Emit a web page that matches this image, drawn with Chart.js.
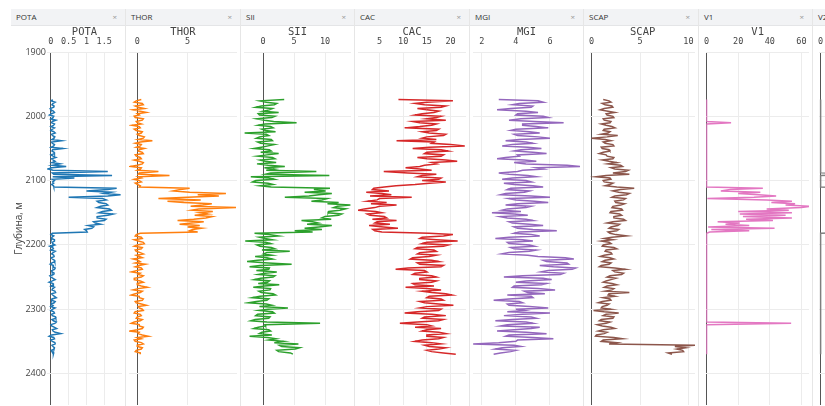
<!DOCTYPE html>
<html>
<head>
<meta charset="utf-8">
<script src="https://cdn.jsdelivr.net/npm/chart.js@4.4.0/dist/chart.umd.min.js"></script>
<style>
  html, body { margin: 0; padding: 0; background: #fff; width: 825px; height: 406px; overflow: hidden; }
  .panel { position: absolute; top: 9px; height: 397px; border-right: 1px solid #e6e6e6; box-sizing: border-box; }
  .hdr { position: relative; height: 17px; box-sizing: border-box; background: #f2f3f5; border-bottom: 1px solid #e4e5e7;
         font: 8px 'Open Sans', sans-serif; color: #333; line-height: 16px; padding-left: 5px; }
  .hdr .x { position: absolute; right: 8px; top: 0; color: #999; font-size: 8px; }
  .panel canvas { position: absolute; top: 17px; left: 0; }
</style>
</head>
<body>
<script>
// глубины (м), шаг 2 м
const DEPTH = [
  1974, 1976, 1978, 1980, 1982, 1984, 1986, 1988, 1990, 1992, 1994, 1996, 1998, 2000, 2002, 2004, 2006, 2008, 2010, 2012,
  2014, 2016, 2018, 2020, 2022, 2024, 2026, 2028, 2030, 2032, 2034, 2036, 2038, 2040, 2042, 2044, 2046, 2048, 2050, 2052,
  2054, 2056, 2058, 2060, 2062, 2064, 2066, 2068, 2070, 2072, 2074, 2076, 2078, 2080, 2082, 2084, 2086, 2088, 2090, 2092,
  2094, 2096, 2098, 2100, 2102, 2104, 2106, 2108, 2110, 2112, 2114, 2116, 2118, 2120, 2122, 2124, 2126, 2128, 2130, 2132,
  2134, 2136, 2138, 2140, 2142, 2144, 2146, 2148, 2150, 2152, 2154, 2156, 2158, 2160, 2162, 2164, 2166, 2168, 2170, 2172,
  2174, 2176, 2178, 2180, 2182, 2184, 2186, 2188, 2190, 2192, 2194, 2196, 2198, 2200, 2202, 2204, 2206, 2208, 2210, 2212,
  2214, 2216, 2218, 2220, 2222, 2224, 2226, 2228, 2230, 2232, 2234, 2236, 2238, 2240, 2242, 2244, 2246, 2248, 2250, 2252,
  2254, 2256, 2258, 2260, 2262, 2264, 2266, 2268, 2270, 2272, 2274, 2276, 2278, 2280, 2282, 2284, 2286, 2288, 2290, 2292,
  2294, 2296, 2298, 2300, 2302, 2304, 2306, 2308, 2310, 2312, 2314, 2316, 2318, 2320, 2322, 2324, 2326, 2328, 2330, 2332,
  2334, 2336, 2338, 2340, 2342, 2344, 2346, 2348, 2350, 2352, 2354, 2356, 2358, 2360, 2362, 2364, 2366, 2368, 2370
];
const DEPTH_TICKS = [1900, 2000, 2100, 2200, 2300, 2400];

const POTA = [
  0.05, 0.01, 0.12, 0.06, 0.03, 0.09, 0.08, -0.02, 0.0, 0.07, 0.1, 0.02, -0.04, 0.08, 0.06, 0.0, 0.14, 0.04, 0.02, 0.1,
  0.07, 0.0, 0.1, 0.04, 0.0, 0.08, 0.12, 0.02, 0.05, 0.11, 0.09, 0.03, 0.3, 0.02, 0.04, 0.1, 0.08, 0.01, 0.34, 0.05,
  0.03, 0.09, 0.1, 0.0, 0.06, 0.14, 0.02, 0.07, 0.12, 0.03, 0.25, 0.05, 0.43, 0.02, -0.08, 0.06, 1.6, 0.04, 0.08, 1.72,
  0.05, 0.66, 0.04, 0.1, 0.05, 0.08, 0.02, 0.07, 0.08, 1.85, 1.6, 1.0, 1.7, 1.5, 1.96, 1.6, 0.5, 1.45, 1.55, 1.3,
  1.35, 1.55, 1.6, 1.4, 1.3, 1.65, 1.7, 1.45, 1.35, 1.75, 1.6, 1.3, 1.3, 1.55, 1.5, 1.2, 1.25, 1.4, 1.05, 1.2,
  1.15, 0.95, 1.0, 1.02, 0.04, 0.0, 0.08, 0.03, 0.02, 0.1, 0.1, 0.04, 0.05, 0.11, -0.03, 0.05, 0.07, 0.0, 0.12, 0.06,
  0.02, 0.08, 0.09, 0.01, 0.04, 0.1, 0.11, 0.03, -0.02, 0.07, 0.06, 0.12, 0.1, 0.02, 0.03, 0.09, 0.08, -0.03, 0.0, 0.06,
  0.12, 0.04, -0.05, 0.06, 0.07, 0.0, 0.1, 0.05, 0.03, 0.11, 0.13, 0.02, 0.05, 0.1, 0.15, 0.03, 0.02, 0.12, 0.09, 0.01,
  0.06, 0.0, 0.12, 0.05, 0.0, 0.08, 0.1, 0.02, 0.04, 0.13, 0.14, 0.03, 0.07, 0.15, 0.11, 0.0, 0.02, 0.09, 0.16, 0.04,
  0.06, 0.12, 0.27, 0.02, -0.05, 0.08, 0.1, 0.0, 0.04, 0.11, 0.12, 0.03, 0.06, 0.1, 0.09, 0.01, 0.03, 0.08, 0.07
];
const THOR = [
  0.4, -0.1, -0.3, 0.5, 0.6, -0.2, 0.1, 0.7, -0.4, 0.3, 0.9, 0.0, 0.2, -0.3, -0.2, 0.6, 0.5, -0.1, 0.0, 0.4,
  -0.5, 0.2, 0.3, -0.3, -0.1, 0.5, 0.4, 0.0, 0.2, 0.7, 0.6, 0.1, 1.5, 0.3, -0.2, 0.4, 0.3, -0.1, 0.7, 0.2,
  0.1, 0.5, 0.6, -0.2, -0.1, 0.3, 0.4, -0.3, 0.2, 0.6, 0.5, 0.0, -0.7, 0.4, 0.3, 0.0, 2.1, 0.2, 0.1, 3.2,
  0.1, 0.4, -0.3, 0.2, 0.4, -0.2, 0.0, 0.3, 0.2, 5.2, 4.3, 3.6, 5.2, 8.8, 6.0, 8.1, 5.0, 2.1, 6.3, 3.0,
  4.6, 7.4, 6.5, 5.3, 9.8, 6.1, 5.4, 7.5, 6.2, 7.0, 5.7, 7.4, 6.8, 5.6, 4.0, 6.6, 5.4, 4.2, 6.2, 5.0,
  6.4, 5.5, 5.2, 6.0, 0.3, -0.1, -0.2, 0.4, 0.5, -0.3, 0.1, 0.6, 0.7, 0.0, -0.3, 0.5, 0.4, -0.2, -0.1, 0.3,
  0.6, -0.1, 0.2, 0.5, -0.4, 0.1, 0.3, -0.2, 0.8, 0.2, -0.2, 0.4, 0.5, -0.1, -0.6, 0.3, 0.1, 0.6, 0.4, -0.3,
  -0.3, 0.3, 0.6, 0.0, 0.0, 0.4, 1.0, 0.1, -0.4, 0.5, 0.3, -0.2, -0.6, 0.2, 0.2, 0.6, 0.5, -0.2, -0.1, 0.4,
  0.9, 0.1, 0.2, 0.5, 0.6, -0.2, -0.3, 0.3, 0.4, 0.0, -0.1, 0.5, 0.3, -0.3, -0.6, 0.2, 0.2, 0.6, 0.5, 0.0,
  -0.7, 0.2, 0.1, 0.5, 1.1, 0.0, 0.4, -0.3, -0.2, 0.4, 0.6, 0.0, 0.0, 0.5, 0.4, -0.1, -0.2, 0.3, 0.3
];
const SII = [
  3.4, -0.5, 0.5, 2.2, 1.8, -0.3, -1.2, 1.5, 1.0, 0.0, 2.5, -0.8, -0.6, 1.9, 1.4, -1.0, 0.2, 1.7, 5.4, 0.3,
  -0.8, 1.2, 1.6, -0.2, 0.4, 2.0, -3.0, 0.5, 0.9, -0.6, -1.1, 1.3, 1.5, -0.9, -0.4, 1.8, 0.8, -0.3, -1.5, 1.0,
  1.3, -0.4, 2.5, 0.6, -0.9, 1.5, 1.9, -0.5, 0.3, 2.1, -1.0, 0.8, 3.5, 0.2, 1.8, 0.5, 8.6, 1.2, 0.4, 10.7,
  -2.0, 0.9, 1.8, -1.2, -1.7, 0.8, 1.6, -0.5, 1.3, 10.8, 8.2, 10.1, 6.7, 11.1, 9.0, 7.4, 3.5, 10.3, 9.5, 7.8,
  12.2, 10.4, 14.1, 12.0, 11.4, 13.3, 12.4, 10.6, 10.5, 12.7, 12.2, 10.0, 9.5, 11.0, 6.2, 8.0, 8.9, 7.1, 11.1, 9.0,
  6.7, 9.5, 5.1, 8.0, -1.4, 0.9, 2.4, -0.6, 0.3, 1.5, -2.9, 0.4, 1.2, -1.0, -0.5, 1.3, 1.9, -0.2, 4.3, 0.6,
  0.1, 1.4, -1.3, 0.6, 1.5, -0.9, -2.6, 0.8, 4.6, -0.5, -2.2, 1.0, 0.9, -1.1, 2.2, 0.3, -0.8, 1.9, 1.6, -0.4,
  -1.4, 1.0, 0.7, -0.8, 2.6, 0.2, -1.6, 1.2, 1.1, -0.7, -0.3, 1.6, 2.0, -0.5, -1.7, 0.9, 0.6, -1.1, -2.3, 0.5,
  1.4, -0.6, 4.0, 0.8, -0.7, 1.5, 1.8, -0.9, -1.2, 1.1, 0.9, -1.3, -2.0, 0.6, 9.2, 0.3, 0.4, -0.8, -1.5, 0.9,
  1.2, -0.2, -0.6, 1.4, -2.2, 0.7, 2.1, 0.9, 3.3, 1.8, 5.7, 2.6, 3.0, 5.9, 5.2, 2.2, 2.5, 4.4, 4.8
];
const CAC = [
  9, 20.5, 15, 12.5, 14.5, 19, 18, 13, 15, 17.5, 16.5, 14, 12.5, 18, 17, 15, 19, 12, 13.5, 17,
  16, 13.5, 10.3, 17.5, 17, 14, 15.5, 19, 18.5, 15, 14, 17, 8.6, 16.5, 16, 20, 23, 15.5, 12, 18,
  19.5, 15, 14.5, 18.5, 18, 13, 15, 19, 21.4, 16, 17, 14.5, 13.5, 10.5, 13.5, 16, 5.9, 11, 17, 14,
  13, 18, 17.5, 14, 19, 15.5, 12.5, 8.5, 6.0, 3.8, 3.5, 7.0, 2.2, 5.5, 7.5, 3.0, 11.8, 5.0, 4.5, 2.5,
  6.5, 3.2, 8.6, 5.0, 4.0, 1.8, 0.6, 4.2, 5.5, 2.4, 3.0, 6.0, 6.5, 3.5, 8.6, 4.5, 4.0, 7.2, 2.8, 5.8,
  8.9, 3.6, 4.0, 5.5, 15.5, 20.5, 18.5, 14, 13.5, 17, 21.5, 15, 14, 19.5, 18.5, 13, 12.5, 16.5, 17, 13.5,
  13, 17, 15.5, 12, 11.5, 16, 17.5, 13, 13.5, 18.5, 18, 11, 8.4, 14.5, 15, 12.5, 12, 16, 17, 13.5,
  13.5, 17, 16, 12, 12.5, 16.5, 10.5, 15, 18, 14, 16, 19, 20.3, 15.5, 15, 18, 18.5, 13.5, 14.5, 17.5,
  20.6, 15, 13.5, 18, 17.5, 13, 10.3, 16, 19, 14.5, 14, 18.5, 17.5, 13, 9.3, 15, 16, 12.5, 18, 15,
  14, 17.5, 19, 15, 15, 18.5, 17.5, 14, 12.5, 16, 18, 14.5, 15.5, 19, 17.5, 15, 16, 18.5, 21.1
];
const MGI = [
  3.0, 5.3, 5.6, 4.2, 3.8, 5.0, 4.9, 3.7, 2.9, 4.6, 5.3, 4.1, 4.0, 5.6, 5.9, 4.3, 3.6, 5.1, 6.8, 4.4,
  4.4, 5.2, 5.9, 4.0, 3.7, 4.8, 5.4, 3.9, 4.1, 5.3, 6.0, 4.2, 3.4, 4.6, 5.0, 3.8, 3.2, 4.7, 5.5, 4.3,
  3.9, 5.0, 5.8, 4.1, 4.2, 3.4, 2.9, 4.5, 5.2, 3.9, 4.6, 7.0, 7.8, 5.2, 5.6, 4.4, 4.1, 3.0, 3.6, 4.7,
  5.2, 3.8, 3.2, 4.6, 4.9, 3.3, 3.9, 5.0, 5.6, 3.7, 3.5, 4.8, 4.5, 3.4, 3.1, 4.9, 6.0, 3.6, 4.0, 5.1,
  5.9, 4.1, 3.4, 4.9, 4.6, 3.5, 3.2, 4.3, 2.6, 3.9, 4.7, 3.1, 3.5, 4.6, 5.0, 3.6, 3.8, 4.8, 5.6, 3.9,
  4.1, 5.0, 6.4, 4.2, 3.9, 4.9, 5.4, 3.6, 2.8, 4.4, 5.0, 3.5, 3.6, 4.8, 5.1, 3.7, 3.9, 5.2, 4.8, 3.6,
  3.2, 4.7, 5.3, 6.9, 7.4, 5.6, 5.8, 7.0, 7.1, 5.4, 6.2, 7.5, 7.3, 5.9, 5.5, 6.8, 6.6, 4.4, 3.3, 5.6,
  6.1, 4.6, 4.0, 5.8, 5.5, 3.9, 3.8, 5.3, 6.3, 4.5, 4.7, 5.7, 3.5, 4.9, 5.0, 3.6, 2.7, 4.2, 4.4, 3.5,
  3.6, 4.8, 5.9, 4.0, 4.5, 3.5, 6.0, 4.4, 3.3, 4.9, 5.2, 3.8, 2.8, 4.6, 5.0, 3.5, 3.1, 5.4, 4.9, 3.9,
  2.9, 4.6, 5.8, 3.6, 3.4, 5.0, 6.2, 4.1, 4.0, 3.0, 1.5, 3.9, 4.3, 3.2, 2.8, 4.0, 3.7, 3.1, 2.7
];
const SCAP = [
  1.2, 1.8, 2.0, 1.1, 1.4, 2.1, 2.2, 1.3, 0.9, 1.7, 2.4, 1.5, 1.6, 2.2, 2.3, 1.2, 1.3, 2.0, 1.9, 1.0,
  1.5, 2.1, 2.4, 1.3, 1.2, 1.9, 1.7, 1.0, 2.7, 1.6, 0.0, 1.4, 2.0, 1.2, 1.4, 2.2, 2.3, 1.0, 1.1, 1.8,
  1.9, 1.2, 0.8, 1.5, 1.6, 2.3, 2.2, 1.1, 1.8, 2.6, 1.7, 3.0, 3.2, 2.0, 2.4, 3.8, 3.5, 2.2, 3.9, 1.5,
  0.5, 1.9, 2.0, 1.2, 1.3, 2.2, 1.9, 1.4, 2.6, 4.4, 3.0, 2.2, 2.8, 3.9, 3.6, 2.4, 2.1, 3.5, 3.3, 2.4,
  2.5, 3.4, 3.0, 2.2, 2.1, 3.1, 3.2, 2.0, 1.9, 2.9, 3.1, 2.3, 2.3, 3.3, 3.5, 2.2, 1.6, 2.9, 2.7, 2.0,
  1.8, 2.8, 2.6, 1.7, 1.9, 2.5, 3.6, 2.1, 1.3, 2.2, 1.0, 1.8, 2.0, 1.2, 1.1, 2.3, 2.6, 1.5, 1.4, 2.0,
  2.1, 1.3, 0.9, 1.9, 2.3, 1.4, 1.1, 2.0, 1.8, 1.0, 0.8, 2.4, 3.5, 2.2, 2.4, 3.3, 3.1, 1.9, 1.6, 2.5,
  2.0, 1.5, 1.2, 2.1, 2.6, 1.6, 1.3, 2.3, 2.1, 1.4, 3.9, 1.8, 1.7, 2.4, 1.2, 1.9, 2.0, 1.1, 0.7, 1.8,
  1.6, 1.1, 1.0, 2.0, 0.2, 1.3, 2.8, 1.5, 1.2, 2.3, 2.2, 1.0, 0.8, 1.9, 1.5, 0.6, 1.1, 2.0, 2.4, 1.2,
  0.7, 1.6, 1.3, 0.5, 0.4, 2.3, 3.2, 1.2, 1.0, 2.6, 1.8, 10.7, 8.6, 9.7, 8.8, 9.4, 9.5, 7.9, 8.3
];
const V1 = [
  0, 0, 0, 0, 0, 0, 0, 0, 0, 0, 0, 0, 0, 0, 0, 0, 0, 0, 15.5, 0,
  0, 0, 0, 0, 0, 0, 0, 0, 0, 0, 0, 0, 0, 0, 0, 0, 0, 0, 0, 0,
  0, 0, 0, 0, 0, 0, 0, 0, 0, 0, 0, 0, 0, 0, 0, 0, 0, 0, 0, 0,
  0, 0, 0, 0, 0, 0, 0, 0, 0, 35.6, 15, 9, 34, 20, 33, 44, 30, 0.5, 38, 54,
  41, 56, 50, 65, 60, 38, 52, 20, 54, 21, 50, 23, 54, 25, 42, 7, 21, 12, 27, 1,
  43, 3, 27, 2, 0, 0, 0, 0, 0, 0, 0, 0, 0, 0, 0, 0, 0, 0, 0, 0,
  0, 0, 0, 0, 0, 0, 0, 0, 0, 0, 0, 0, 0, 0, 0, 0, 0, 0, 0, 0,
  0, 0, 0, 0, 0, 0, 0, 0, 0, 0, 0, 0, 0, 0, 0, 0, 0, 0, 0, 0,
  0, 0, 0, 0, 0, 0, 0, 0, 0, 0, 0, 0, 0, 0, 53.5, 0, 0, 0, 0, 0,
  0, 0, 0, 0, 0, 0, 0, 0, 0, 0, 0, 0, 0, 0, 0, 0, 0, 0, 0
];
const V2 = [
  0, 0, 0, 0, 0, 0, 0, 0, 0, 0, 0, 0, 0, 0, 0, 0, 0, 0, 0, 0,
  0, 0, 0, 0, 0, 0, 0, 0, 0, 0, 0, 0, 0, 0, 0, 0, 0, 0, 0, 0,
  0, 0, 0, 0, 0, 0, 0, 0, 0, 0, 0, 0, 0, 0, 0, 0, 0, 0, 30, 0,
  0, 0, 0, 0, 0, 0, 0, 0, 0, 28, 35, 22, 40, 31, 45, 38, 52, 30, 41, 26,
  47, 33, 24, 39, 29, 36, 44, 27, 35, 50, 31, 42, 25, 38, 46, 30, 37, 28, 43, 34,
  32, 40, 29, 36, 0, 0, 0, 0, 0, 0, 0, 0, 0, 0, 0, 0, 0, 0, 0, 0,
  0, 0, 0, 0, 0, 0, 0, 0, 0, 0, 0, 0, 0, 0, 0, 0, 0, 0, 0, 0,
  0, 0, 0, 0, 0, 0, 0, 0, 0, 0, 0, 0, 0, 0, 0, 0, 0, 0, 0, 0,
  0, 0, 0, 0, 0, 0, 0, 0, 0, 0, 0, 0, 0, 0, 0, 0, 0, 0, 0, 0,
  0, 0, 0, 0, 0, 0, 0, 0, 0, 0, 0, 0, 0, 0, 0, 0, 0, 0, 0
];

// кривые: имя, значения, цвет, диапазон оси и подписи
const TRACKS = [
  { name: 'POTA', values: POTA, color: '#1f77b4', min: -0.11, max: 2.0,   ticks: [0, 0.5, 1, 1.5] },
  { name: 'THOR', values: THOR, color: '#ff7f0e', min: -0.82, max: 9.9,   ticks: [0, 5] },
  { name: 'SII',  values: SII,  color: '#2ca02c', min: -3.1,  max: 14.2,  ticks: [0, 5, 10] },
  { name: 'CAC',  values: CAC,  color: '#d62728', min: 0.46,  max: 23.26, ticks: [5, 10, 15, 20] },
  { name: 'MGI',  values: MGI,  color: '#9467bd', min: 1.49,  max: 7.76,  ticks: [2, 4, 6] },
  { name: 'SCAP', values: SCAP, color: '#8c564b', min: -0.13, max: 10.68, ticks: [0, 5, 10] },
  { name: 'V1',   values: V1,   color: '#e377c2', min: -0.2,  max: 64.8,  ticks: [0, 20, 40, 60] },
  { name: 'V2',   values: V2,   color: '#7f7f7f', min: -1.2,  max: 64,    ticks: [0, 20, 40, 60] }
];

const PANEL_LEFT = [11, 126, 241, 355, 470, 584, 699, 813, 928];
const MONO = 'DejaVu Sans Mono';

TRACKS.forEach((t, i) => {
  const w = PANEL_LEFT[i + 1] - PANEL_LEFT[i];
  const panel = document.createElement('div');
  panel.className = 'panel';
  panel.style.left = PANEL_LEFT[i] + 'px';
  panel.style.width = w + 'px';
  panel.innerHTML = `<div class="hdr">${t.name}<span class="x">×</span></div>`;
  const canvas = document.createElement('canvas');
  canvas.width = w;
  canvas.height = 380;
  panel.appendChild(canvas);
  document.body.appendChild(panel);

  const first = i === 0;
  new Chart(canvas, {
    type: 'scatter',
    data: {
      datasets: [{
        data: DEPTH.map((d, j) => ({ x: t.values[j], y: d })),
        showLine: true,
        borderColor: t.color,
        borderWidth: 1.5,
        pointRadius: 0,
        tension: 0
      }]
    },
    options: {
      responsive: false,
      animation: false,
      devicePixelRatio: 1,
      layout: { padding: { left: first ? 0 : 3, right: 4, top: 0, bottom: 1 } },
      plugins: { legend: { display: false }, tooltip: { enabled: false } },
      scales: {
        x: {
          type: 'linear',
          position: 'top',
          min: t.min,
          max: t.max,
          afterBuildTicks: ax => { ax.ticks = t.ticks.map(v => ({ value: v })); },
          afterFit: ax => { ax.height = 26; },
          grid: {
            drawTicks: false,
            color: c => (c.tick && c.tick.value === 0 ? '#555' : '#ececec'),
            lineWidth: 1
          },
          border: { display: false },
          ticks: {
            padding: 5, color: '#444', autoSkip: false, maxRotation: 0,
            font: { family: MONO, size: 8.5 },
            callback: v => String(v)
          },
          title: { display: true, text: t.name, color: '#444', padding: 0, font: { family: MONO, size: 10.5 } }
        },
        y: {
          type: 'linear',
          reverse: true,
          min: 1900,
          max: 2449,
          afterBuildTicks: ax => { ax.ticks = DEPTH_TICKS.map(v => ({ value: v })); },
          afterFit: ax => {
            ax.width = first ? 36 : 0;
            // подписи глубин не должны сжимать область графика
            ax.paddingTop = 0;
            ax.paddingBottom = 0;
          },
          grid: { drawTicks: false, color: '#ececec' },
          border: { display: false },
          ticks: {
            display: first, padding: 1, color: '#444',
            font: { family: 'Open Sans', size: 9 },
            callback: v => String(v)
          },
          title: {
            display: first, text: 'Глубина, м', color: '#444',
            padding: { top: 2, bottom: 0 },
            font: { family: 'Open Sans', size: 10 }
          }
        }
      }
    }
  });
});
</script>
</body>
</html>
